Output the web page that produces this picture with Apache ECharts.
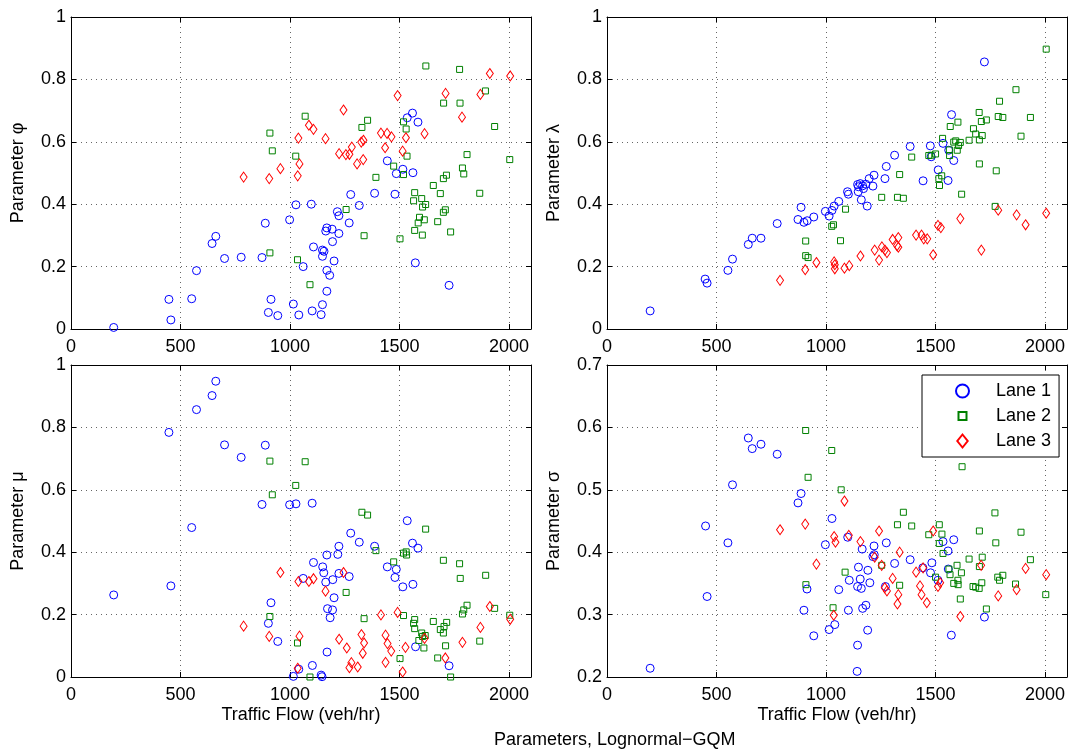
<!DOCTYPE html>
<html>
<head>
<meta charset="utf-8">
<script src="https://cdn.jsdelivr.net/npm/echarts@6/dist/echarts.min.js"></script>
<style>
html, body { margin: 0; padding: 0; background: #fff; }
#chart { width: 1071px; height: 750px; }
</style>
</head>
<body>
<div id="chart"></div>
<script>
// [flow, value] pairs
var phiLane1 = [[195,0.005],[447,0.095],[456,0.029],[551,0.097],[573,0.187],[644,0.274],[661,0.297],[701,0.226],[777,0.230],[872,0.229],[887,0.339],[913,0.095],[901,0.053],[944,0.043],[998,0.350],[1015,0.080],[1027,0.398],[1040,0.045],[1060,0.200],[1097,0.400],[1101,0.058],[1142,0.046],[1148,0.078],[1107,0.263],[1148,0.253],[1155,0.249],[1148,0.233],[1168,0.324],[1163,0.314],[1192,0.320],[1223,0.306],[1194,0.280],[1201,0.218],[1168,0.188],[1181,0.172],[1168,0.121],[1216,0.376],[1223,0.363],[1270,0.340],[1277,0.431],[1316,0.396],[1386,0.435],[1479,0.432],[1444,0.539],[1485,0.498],[1515,0.512],[1561,0.501],[1535,0.677],[1559,0.692],[1584,0.663],[1572,0.212],[1726,0.140]];
var phiLane2 = [[908,0.628],[919,0.571],[908,0.244],[1026,0.554],[1034,0.222],[1069,0.682],[1091,0.142],[1256,0.383],[1338,0.299],[1328,0.646],[1354,0.669],[1392,0.486],[1473,0.522],[1502,0.289],[1518,0.664],[1530,0.641],[1534,0.554],[1518,0.495],[1569,0.437],[1564,0.411],[1601,0.418],[1619,0.399],[1605,0.391],[1591,0.358],[1613,0.350],[1585,0.340],[1569,0.316],[1604,0.301],[1620,0.843],[1654,0.460],[1686,0.434],[1674,0.344],[1700,0.482],[1714,0.493],[1700,0.374],[1709,0.382],[1733,0.311],[1701,0.724],[1774,0.832],[1776,0.724],[1787,0.516],[1793,0.497],[1808,0.559],[1866,0.435],[1892,0.763],[1934,0.649],[2003,0.543]];
var phiLane3 = [[788,0.487],[905,0.482],[956,0.514],[1038,0.612],[1043,0.529],[1035,0.491],[1086,0.653],[1107,0.640],[1162,0.610],[1244,0.702],[1224,0.562],[1255,0.559],[1271,0.560],[1282,0.583],[1306,0.529],[1325,0.599],[1335,0.605],[1334,0.543],[1415,0.628],[1434,0.581],[1443,0.627],[1463,0.616],[1491,0.748],[1514,0.570],[1529,0.613],[1614,0.626],[1710,0.755],[1785,0.679],[1869,0.752],[1912,0.819],[2005,0.811]];

var lambdaLane1 = [[197,0.058],[448,0.160],[457,0.147],[552,0.188],[573,0.224],[645,0.271],[663,0.291],[703,0.291],[777,0.338],[872,0.351],[886,0.390],[899,0.342],[914,0.347],[944,0.359],[997,0.377],[1014,0.362],[1027,0.380],[1037,0.394],[1058,0.409],[1098,0.440],[1102,0.432],[1144,0.463],[1148,0.456],[1156,0.466],[1167,0.459],[1171,0.450],[1182,0.464],[1147,0.440],[1161,0.414],[1188,0.394],[1197,0.482],[1214,0.458],[1219,0.493],[1269,0.482],[1275,0.521],[1313,0.557],[1384,0.585],[1443,0.475],[1476,0.587],[1480,0.552],[1512,0.510],[1534,0.595],[1557,0.476],[1560,0.573],[1573,0.687],[1583,0.540],[1723,0.856]];
var lambdaLane2 = [[907,0.282],[907,0.235],[918,0.229],[1026,0.329],[1034,0.334],[1066,0.283],[1089,0.384],[1254,0.422],[1326,0.422],[1353,0.419],[1336,0.495],[1391,0.551],[1469,0.556],[1480,0.557],[1500,0.561],[1515,0.482],[1518,0.460],[1528,0.491],[1532,0.611],[1563,0.574],[1564,0.556],[1567,0.649],[1583,0.599],[1599,0.573],[1602,0.663],[1605,0.588],[1613,0.598],[1592,0.603],[1619,0.432],[1653,0.605],[1673,0.642],[1683,0.625],[1699,0.694],[1700,0.606],[1700,0.529],[1709,0.665],[1713,0.620],[1732,0.670],[1777,0.507],[1772,0.393],[1786,0.681],[1792,0.730],[1807,0.678],[1867,0.767],[1890,0.618],[1933,0.678],[2005,0.897]];
var lambdaLane3 = [[790,0.156],[905,0.190],[956,0.213],[1037,0.215],[1040,0.206],[1040,0.193],[1084,0.195],[1106,0.203],[1157,0.234],[1222,0.253],[1242,0.221],[1255,0.263],[1269,0.253],[1278,0.245],[1304,0.287],[1324,0.267],[1330,0.293],[1330,0.262],[1411,0.301],[1436,0.301],[1446,0.289],[1462,0.289],[1489,0.238],[1511,0.332],[1524,0.325],[1613,0.354],[1709,0.253],[1786,0.381],[1870,0.366],[1911,0.334],[2005,0.371]];

var muLane1 = [[195,0.263],[447,0.784],[456,0.292],[551,0.479],[573,0.857],[644,0.902],[661,0.948],[701,0.744],[777,0.704],[872,0.553],[887,0.743],[913,0.238],[901,0.172],[944,0.114],[998,0.552],[1015,0.002],[1027,0.555],[1040,0.025],[1060,0.316],[1101,0.557],[1102,0.037],[1142,0.006],[1146,0.001],[1107,0.367],[1149,0.353],[1154,0.334],[1163,0.304],[1168,0.391],[1195,0.312],[1201,0.254],[1171,0.219],[1194,0.215],[1183,0.190],[1169,0.080],[1218,0.393],[1223,0.419],[1223,0.332],[1270,0.322],[1277,0.461],[1316,0.432],[1386,0.419],[1444,0.353],[1485,0.345],[1479,0.319],[1515,0.289],[1535,0.501],[1559,0.429],[1584,0.413],[1561,0.297],[1573,0.097],[1726,0.036]];
var muLane2 = [[908,0.692],[919,0.584],[908,0.194],[1026,0.614],[1034,0.109],[1069,0.690],[1091,0.0],[1256,0.271],[1328,0.528],[1354,0.519],[1338,0.187],[1392,0.405],[1473,0.369],[1502,0.059],[1518,0.397],[1530,0.401],[1532,0.391],[1518,0.197],[1569,0.184],[1564,0.172],[1569,0.155],[1601,0.141],[1605,0.130],[1619,0.474],[1588,0.117],[1617,0.133],[1611,0.093],[1654,0.178],[1674,0.061],[1700,0.374],[1686,0.152],[1700,0.141],[1703,0.162],[1715,0.175],[1710,0.100],[1733,0.0],[1774,0.363],[1777,0.316],[1787,0.202],[1793,0.215],[1808,0.230],[1866,0.115],[1893,0.326],[1934,0.220],[2003,0.198]];
var muLane3 = [[788,0.163],[905,0.130],[956,0.335],[1038,0.306],[1043,0.131],[1035,0.028],[1086,0.306],[1107,0.315],[1162,0.275],[1244,0.335],[1224,0.121],[1259,0.093],[1280,0.046],[1271,0.030],[1309,0.032],[1326,0.136],[1338,0.109],[1332,0.076],[1415,0.199],[1436,0.134],[1445,0.107],[1462,0.083],[1436,0.047],[1491,0.207],[1527,0.095],[1514,0.016],[1614,0.124],[1709,0.061],[1787,0.111],[1869,0.159],[1912,0.226],[2005,0.185]];

var sigmaLane1 = [[197,0.214],[450,0.442],[457,0.329],[552,0.415],[573,0.508],[645,0.583],[663,0.566],[703,0.573],[777,0.557],[872,0.479],[886,0.494],[899,0.307],[913,0.341],[944,0.266],[997,0.412],[1014,0.276],[1027,0.454],[1040,0.284],[1058,0.340],[1099,0.424],[1102,0.307],[1106,0.355],[1144,0.251],[1142,0.209],[1148,0.376],[1156,0.357],[1144,0.345],[1161,0.342],[1165,0.405],[1167,0.310],[1182,0.315],[1191,0.371],[1190,0.275],[1200,0.351],[1214,0.393],[1219,0.410],[1220,0.396],[1271,0.345],[1275,0.415],[1313,0.382],[1384,0.388],[1442,0.375],[1477,0.367],[1483,0.383],[1511,0.355],[1534,0.417],[1557,0.402],[1558,0.373],[1583,0.420],[1572,0.267],[1723,0.296]];
var sigmaLane2 = [[907,0.595],[908,0.348],[918,0.520],[1026,0.563],[1032,0.311],[1069,0.500],[1087,0.368],[1254,0.379],[1326,0.444],[1353,0.464],[1391,0.442],[1336,0.347],[1469,0.428],[1500,0.360],[1517,0.444],[1517,0.414],[1529,0.429],[1534,0.398],[1561,0.373],[1566,0.364],[1598,0.379],[1618,0.367],[1583,0.350],[1602,0.355],[1603,0.348],[1613,0.325],[1621,0.537],[1653,0.389],[1671,0.345],[1683,0.344],[1699,0.342],[1700,0.434],[1700,0.377],[1713,0.392],[1711,0.351],[1732,0.309],[1771,0.463],[1775,0.415],[1784,0.360],[1792,0.355],[1807,0.363],[1865,0.349],[1890,0.432],[1933,0.388],[2003,0.332]];
var sigmaLane3 = [[790,0.436],[905,0.445],[956,0.381],[1037,0.425],[1043,0.416],[1035,0.299],[1084,0.482],[1104,0.427],[1157,0.417],[1222,0.392],[1242,0.434],[1254,0.379],[1268,0.343],[1278,0.338],[1304,0.358],[1330,0.332],[1326,0.317],[1336,0.400],[1411,0.368],[1429,0.346],[1436,0.332],[1443,0.375],[1460,0.319],[1489,0.434],[1511,0.345],[1521,0.351],[1613,0.297],[1708,0.379],[1786,0.330],[1870,0.340],[1911,0.374],[2005,0.364]];

var laneNames = ['Lane 1', 'Lane 2', 'Lane 3'];
var panelNames = ['Parameter φ', 'Parameter λ', 'Parameter μ', 'Parameter σ'];
var yRanges = [[0, 1, 0.2], [0, 1, 0.2], [0, 1, 0.2], [0.2, 0.7, 0.1]];
var xTicks = [0, 500, 1000, 1500, 2000];

var panels = [
    [phiLane1, phiLane2, phiLane3],
    [lambdaLane1, lambdaLane2, lambdaLane3],
    [muLane1, muLane2, muLane3],
    [sigmaLane1, sigmaLane2, sigmaLane3]
];

var font = 'Liberation Sans, Arial, Helvetica, sans-serif';
var laneColors = ['#0000ff', '#008000', '#ff0000'];
var laneSymbols = ['circle', 'rect', 'diamond'];
var laneSizes = [8, 6, [7, 10]];
// legend icons: smaller square and taller diamond than the default fill-the-box shapes
var legendIcons = [
    'circle',
    'path://M0,0M13,13M2.5,2.5L10.5,2.5L10.5,10.5L2.5,10.5Z',
    'path://M6,0L12,7.5L6,15L0,7.5Z'
];

var grids = [
    { left: 71, top: 17, width: 460, height: 312 },
    { left: 607, top: 17, width: 460, height: 312 },
    { left: 71, top: 365, width: 460, height: 312 },
    { left: 607, top: 365, width: 460, height: 312 }
];

var xAxes = [], yAxes = [], series = [];
var gridLine = { show: true, lineStyle: { color: '#666', type: [1, 4], width: 1 }, showMinLine: false, showMaxLine: false };
var border = { show: true, onZero: false, lineStyle: { color: '#000', width: 1 } };

for (var i = 0; i < 4; i++) {
    var bottomRow = i >= 2;
    xAxes.push({
        gridIndex: i, type: 'value', min: 0, max: 2100, interval: 500,
        axisLine: border,
        axisTick: { show: true, inside: true, length: 5, lineStyle: { color: '#000' } },
        axisLabel: {
            color: '#000', fontSize: 18, fontFamily: font, margin: 9,
            formatter: function (v) { return xTicks.indexOf(v) >= 0 ? String(v) : ''; }
        },
        splitLine: gridLine,
        name: bottomRow ? 'Traffic Flow (veh/hr)' : '',
        nameLocation: 'middle', nameGap: 29,
        nameTextStyle: { color: '#000', fontSize: 18, fontFamily: font }
    });
    xAxes.push({
        gridIndex: i, type: 'value', min: 0, max: 2100, interval: 500, position: 'top',
        axisLine: border,
        axisTick: { show: true, inside: true, length: 5, lineStyle: { color: '#000' } },
        axisLabel: { show: false }, splitLine: { show: false }
    });
    var yr = yRanges[i];
    yAxes.push({
        gridIndex: i, type: 'value', min: yr[0], max: yr[1], interval: yr[2],
        axisLine: border,
        axisTick: { show: true, inside: true, length: 5, lineStyle: { color: '#000' } },
        axisLabel: { color: '#000', fontSize: 18, fontFamily: font, margin: 5 },
        splitLine: gridLine,
        name: panelNames[i], nameLocation: 'middle', nameGap: 44,
        nameTextStyle: { color: '#000', fontSize: 18, fontFamily: font }
    });
    yAxes.push({
        gridIndex: i, type: 'value', min: yr[0], max: yr[1], interval: yr[2], position: 'right',
        axisLine: border,
        axisTick: { show: true, inside: true, length: 5, lineStyle: { color: '#000' } },
        axisLabel: { show: false }, splitLine: { show: false }
    });
    for (var k = 0; k < 3; k++) {
        series.push({
            name: laneNames[k], type: 'scatter',
            xAxisIndex: 2 * i, yAxisIndex: 2 * i,
            data: panels[i][k],
            symbol: laneSymbols[k], symbolSize: laneSizes[k],
            itemStyle: { color: 'rgba(0,0,0,0)', borderColor: laneColors[k], borderWidth: 1, opacity: 1 },
            z: 2 + k, silent: true, animation: false
        });
    }
}

var legendData = laneNames.map(function (n, j) { return { name: n, icon: legendIcons[j] }; });

var myChart = echarts.init(document.getElementById('chart'), null, { renderer: 'canvas' });
myChart.setOption({
    backgroundColor: '#fff',
    animation: false,
    title: {
        text: 'Parameters, Lognormal−GQM',
        left: 489, top: 726,
        textStyle: { color: '#000', fontSize: 18, fontWeight: 'normal', fontFamily: font }
    },
    legend: {
        data: legendData, orient: 'vertical',
        left: 922, top: 375,
        padding: [7, 8, 7, 33], itemGap: 7,
        itemWidth: 13, itemHeight: 13, symbolKeepAspect: true,
        backgroundColor: '#fff', borderColor: '#000', borderWidth: 1,
        textStyle: { color: '#000', fontSize: 18, fontFamily: font, padding: [0, 0, 0, 22] }
    },
    grid: grids,
    xAxis: xAxes,
    yAxis: yAxes,
    series: series
});
</script>
</body>
</html>
